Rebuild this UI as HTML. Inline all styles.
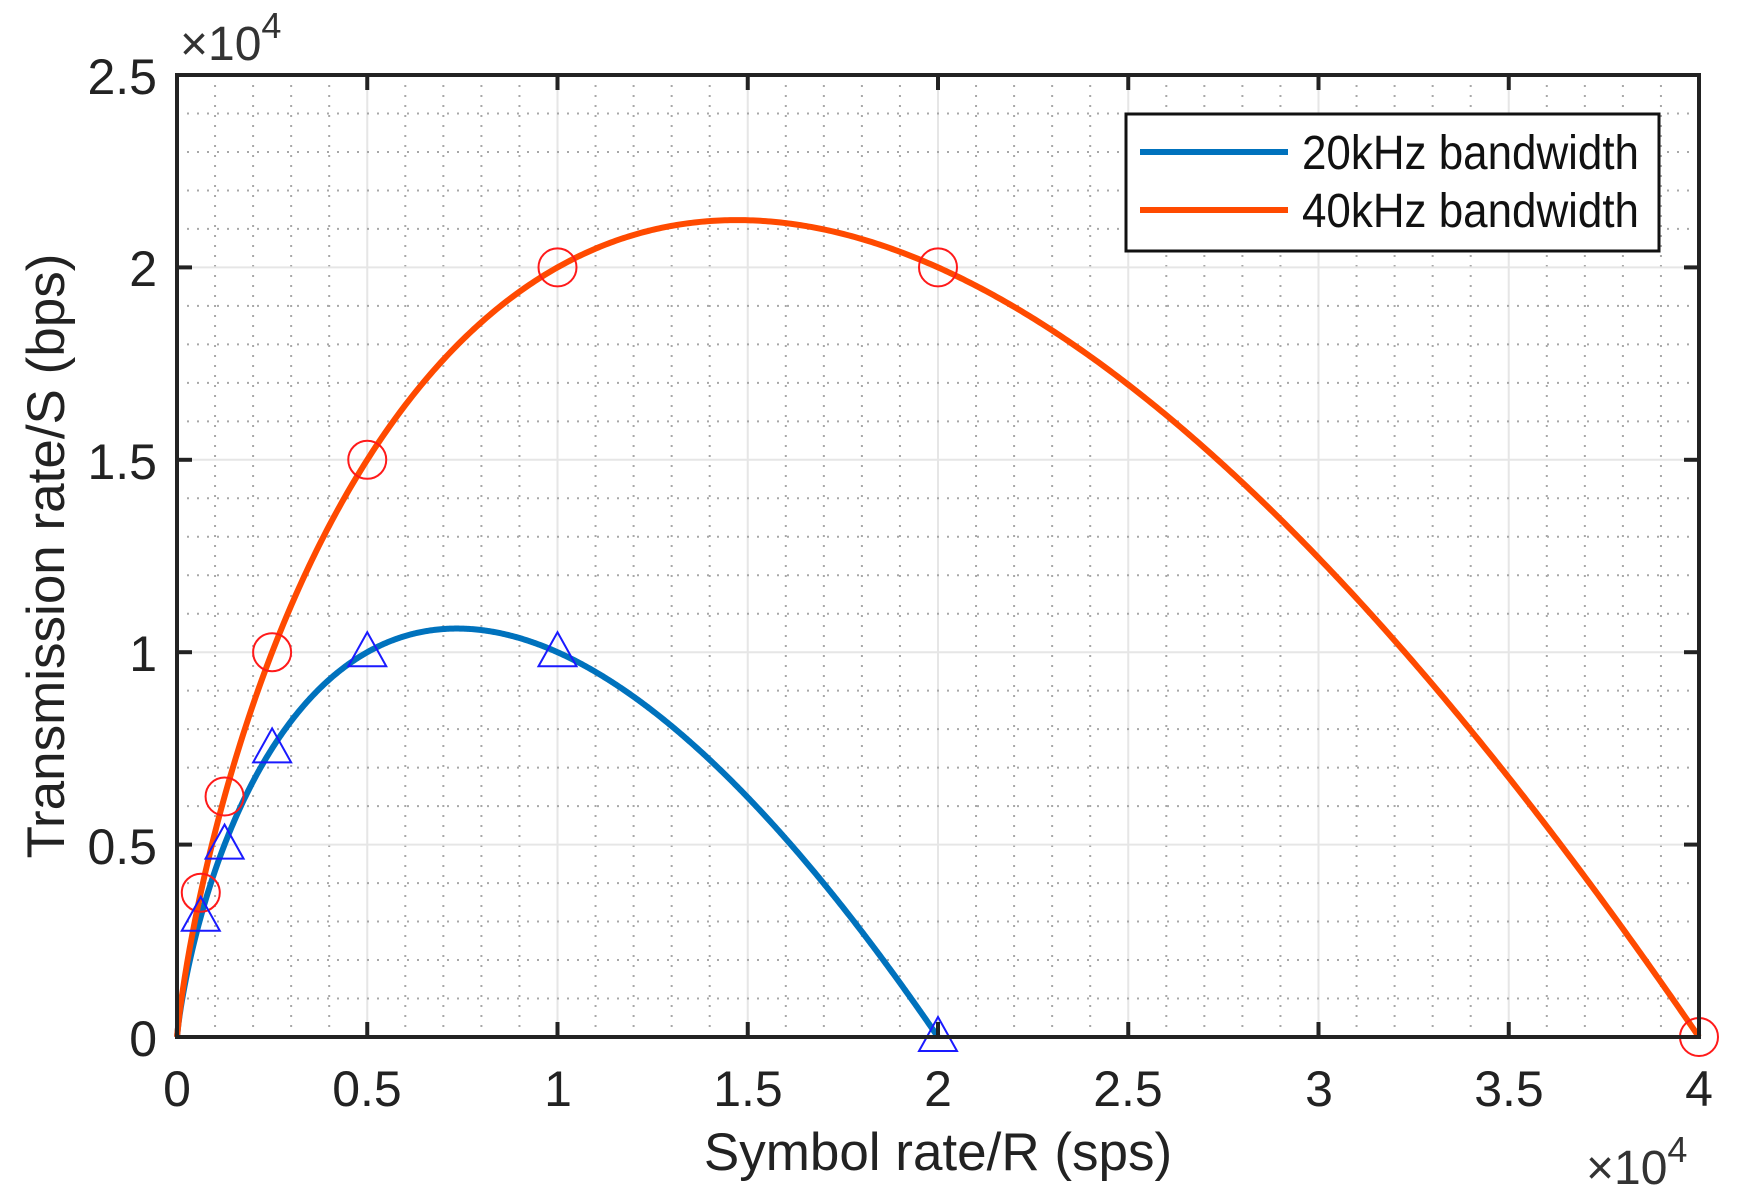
<!DOCTYPE html>
<html><head><meta charset="utf-8"><style>
html,body{margin:0;padding:0;background:#fff;}
svg{display:block;font-family:"Liberation Sans",Arial,sans-serif;}
</style></head><body>
<svg id="s" width="1737" height="1192" viewBox="0 0 1737 1192" xmlns="http://www.w3.org/2000/svg">
<rect width="1737" height="1192" fill="#fff"/>
<g id="grid"></g>
<g id="curves"></g>
<g id="axes"></g>
<g font-size="50" fill="#222">
<text x="157" y="94" text-anchor="end">2.5</text>
<text x="157" y="286" text-anchor="end">2</text>
<text x="157" y="479" text-anchor="end">1.5</text>
<text x="157" y="671" text-anchor="end">1</text>
<text x="157" y="864" text-anchor="end">0.5</text>
<text x="157" y="1056" text-anchor="end">0</text>
<text x="177" y="1106" text-anchor="middle">0</text>
<text x="367" y="1106" text-anchor="middle">0.5</text>
<text x="558" y="1106" text-anchor="middle">1</text>
<text x="748" y="1106" text-anchor="middle">1.5</text>
<text x="938" y="1106" text-anchor="middle">2</text>
<text x="1128" y="1106" text-anchor="middle">2.5</text>
<text x="1319" y="1106" text-anchor="middle">3</text>
<text x="1509" y="1106" text-anchor="middle">3.5</text>
<text x="1699" y="1106" text-anchor="middle">4</text>
<text x="180" y="60" fill="#333" font-size="48">×10<tspan font-size="36" dy="-22">4</tspan></text>
<text x="1586" y="1184" fill="#333" font-size="48">×10<tspan font-size="36" dy="-22">4</tspan></text>
<text x="938" y="1170" text-anchor="middle" font-size="53">Symbol rate/R (sps)</text>
<text transform="translate(64,556) rotate(-90)" text-anchor="middle" font-size="53">Transmission rate/S (bps)</text>
</g>
<g>
<rect x="1126" y="114" width="533" height="137" fill="#fff" stroke="#111" stroke-width="3"/>
<line x1="1140" y1="152" x2="1288" y2="152" stroke="#0072BD" stroke-width="6"/>
<line x1="1140" y1="210" x2="1288" y2="210" stroke="#FF4A00" stroke-width="6"/>
<text x="1302" y="169" font-size="48" fill="#111" textLength="337" lengthAdjust="spacingAndGlyphs">20kHz bandwidth</text>
<text x="1302" y="227" font-size="48" fill="#111" textLength="337" lengthAdjust="spacingAndGlyphs">40kHz bandwidth</text>
</g>
<script>
(function(){
var X0=177,X1=1699,Y0=1037,Y1=75;
function px(x){return X0+(X1-X0)*x/40000;}
function py(y){return Y0-(Y0-Y1)*y/25000;}
var ns="http://www.w3.org/2000/svg";
function el(t,a,p){var e=document.createElementNS(ns,t);for(var k in a)e.setAttribute(k,a[k]);document.getElementById(p).appendChild(e);return e;}
for(var i=1;i<40;i++){var x=px(i*1000);
 if(i%5==0) el("line",{x1:x,y1:Y1,x2:x,y2:Y0,stroke:"#e6e6e6","stroke-width":2},"grid");
 else el("line",{x1:x,y1:Y1,x2:x,y2:Y0,stroke:"#a8a8a8","stroke-width":2,"stroke-dasharray":"2 8"},"grid");}
for(var j=1;j<25;j++){var y=py(j*1000);
 if(j%5==0) el("line",{x1:X0,y1:y,x2:X1,y2:y,stroke:"#e6e6e6","stroke-width":2},"grid");
 else el("line",{x1:X0,y1:y,x2:X1,y2:y,stroke:"#a8a8a8","stroke-width":2,"stroke-dasharray":"2 8"},"grid");}
function curve(B,col){var d="M"+px(0)+" "+py(0);
 for(var k=1;k<=600;k++){var R=B*k/600;var S=R*Math.log(B/R)/Math.LN2;d+=" L"+px(R).toFixed(2)+" "+py(S).toFixed(2);}
 el("path",{d:d,fill:"none",stroke:col,"stroke-width":6,"stroke-linejoin":"round"},"curves");}
curve(20000,"#0072BD");curve(40000,"#FF4A00");
var Rs=[625,1250,2500,5000,10000,20000,40000];
Rs.forEach(function(R){var S=R*Math.log(40000/R)/Math.LN2;el("circle",{cx:px(R),cy:py(S),r:19,fill:"none",stroke:"#ff1a1a","stroke-width":2},"curves");});
Rs.slice(0,6).forEach(function(R){var S=R*Math.log(20000/R)/Math.LN2;var x=px(R),y=py(S);
 el("polygon",{points:(x)+","+(y-20)+" "+(x-19)+","+(y+14)+" "+(x+19)+","+(y+14),fill:"none",stroke:"#1a1aff","stroke-width":2},"curves");});
el("rect",{x:X0,y:Y1,width:X1-X0,height:Y0-Y1,fill:"none",stroke:"#222","stroke-width":4},"axes");
for(var i=0;i<=8;i++){var x=px(i*5000);el("line",{x1:x,y1:Y0,x2:x,y2:Y0-15,stroke:"#222","stroke-width":4},"axes");el("line",{x1:x,y1:Y1,x2:x,y2:Y1+15,stroke:"#222","stroke-width":4},"axes");}
for(var j=0;j<=5;j++){var y=py(j*5000);el("line",{x1:X0,y1:y,x2:X0+15,y2:y,stroke:"#222","stroke-width":4},"axes");el("line",{x1:X1,y1:y,x2:X1-15,y2:y,stroke:"#222","stroke-width":4},"axes");}
})();
</script>
</svg>
</body></html>
